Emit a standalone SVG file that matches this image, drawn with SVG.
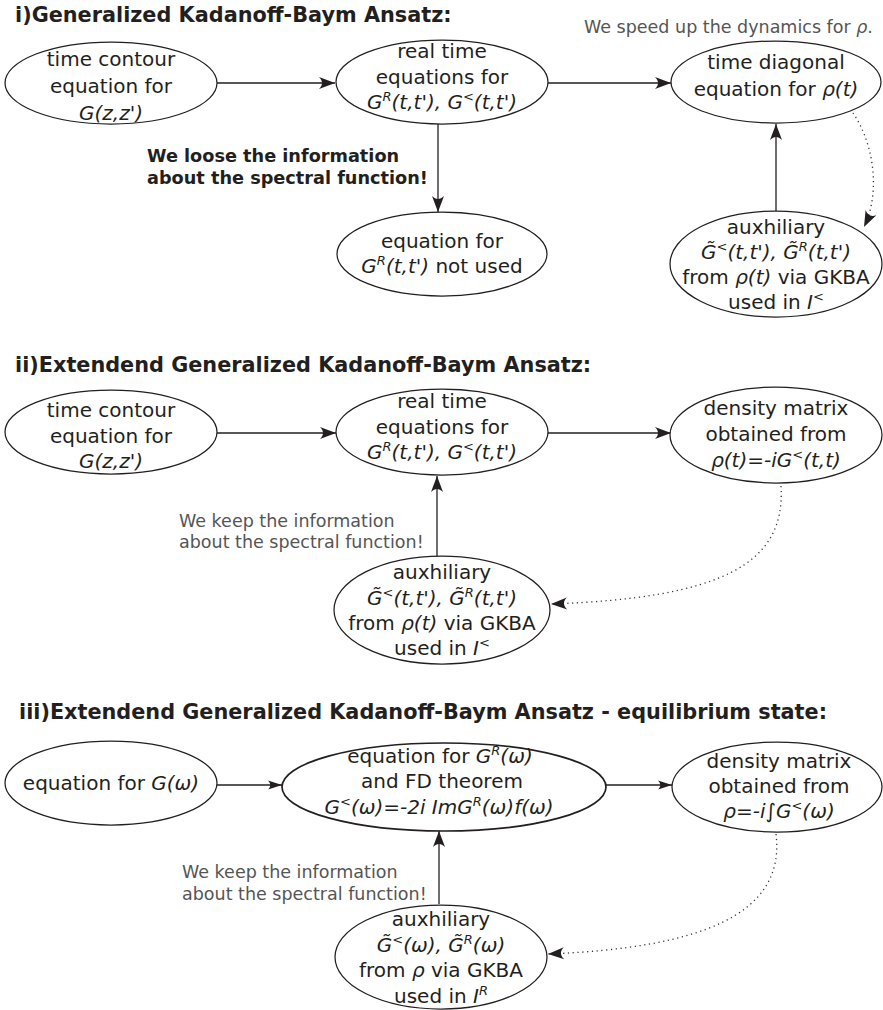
<svg xmlns="http://www.w3.org/2000/svg" width="883" height="1010" viewBox="0 0 883 1010">
<style>
.n ellipse{fill:#fff;stroke:#231f20;stroke-width:1.25}
text{font-family:"DejaVu Sans","Bitstream Vera Sans",sans-serif;fill:#231f20}
.t{font-size:20px;text-anchor:middle}
.it{font-style:italic}
.s{font-size:13px}
.title{font-size:20.8px;font-weight:bold}
.note{font-size:17.5px;fill:#555}
.bnote{font-size:17.7px;font-weight:bold}
.c path{stroke:#231f20;stroke-width:1.3;fill:none}
.c .dot{stroke:#333;stroke-dasharray:1.2 3.6}
</style>
<defs>
<marker id="a" markerUnits="userSpaceOnUse" markerWidth="20" markerHeight="16" viewBox="-17 -8 18 16" refX="0" refY="0" orient="auto" overflow="visible">
<path d="M0,0 L-16,-6 C-12,-2 -12,2 -16,6 Z" fill="#231f20"/>
</marker>
<marker id="as" markerUnits="userSpaceOnUse" markerWidth="20" markerHeight="16" viewBox="-17 -8 18 16" refX="0" refY="0" orient="auto" overflow="visible">
<path d="M0,0 L-14,-4.5 C-11,-1.5 -11,1.5 -14,4.5 Z" fill="#231f20"/>
</marker>
</defs>

<text class="title" x="15" y="22">i)Generalized Kadanoff-Baym Ansatz:</text>
<text class="title" x="15" y="372">ii)Extendend Generalized Kadanoff-Baym Ansatz:</text>
<text class="title" x="19" y="719">iii)Extendend Generalized Kadanoff-Baym Ansatz - equilibrium state:</text>

<text class="note" x="584" y="33">We speed up the dynamics for <tspan class="it">ρ</tspan>.</text>
<text class="bnote" x="147" y="162">We loose the information</text>
<text class="bnote" x="147" y="184">about the spectral function!</text>
<text class="note" x="179" y="527">We keep the information</text>
<text class="note" x="179" y="548">about the spectral function!</text>
<text class="note" x="182" y="878">We keep the information</text>
<text class="note" x="182" y="900">about the spectral function!</text>

<g class="c" id="connectors">
<path d="M217,83 L335,83" marker-end="url(#a)"/>
<path d="M548,83 L671,83" marker-end="url(#a)"/>
<path d="M438,124 L438,212" marker-end="url(#a)"/>
<path d="M776,211 L776,124" marker-end="url(#a)"/>
<path class="dot" d="M853,113 C872,140 882,190 864,227" marker-end="url(#a)"/>

<path d="M217,433 L336,433" marker-end="url(#a)"/>
<path d="M548,433 L671,433" marker-end="url(#a)"/>
<path d="M437,556 L437,476" marker-end="url(#a)"/>
<path class="dot" d="M781,486 C786,565 720,598 551,604" marker-end="url(#a)"/>

<path d="M217,785 L282,785" marker-end="url(#as)"/>
<path d="M606,785 L672,785" marker-end="url(#as)"/>
<path d="M439,904 L439,831" marker-end="url(#a)"/>
<path class="dot" d="M776,834 C786,915 700,948 548,954" marker-end="url(#a)"/>
</g>

<g class="n" id="n1a">
<ellipse cx="111" cy="83" rx="106" ry="41"/>
<text class="t" x="111" y="66">time contour</text>
<text class="t" x="111" y="93">equation for</text>
<text class="t it" x="111" y="120">G(z,z')</text>
</g>
<g class="n" id="n1b">
<ellipse cx="442" cy="82" rx="106" ry="42"/>
<text class="t" x="442" y="58">real time</text>
<text class="t" x="442" y="84">equations for</text>
<text class="t it" x="442" y="109">G<tspan class="s" dy="-8">R</tspan><tspan dy="8">(t,t'), G</tspan><tspan class="s" dy="-8">&lt;</tspan><tspan dy="8">(t,t')</tspan></text>
</g>
<g class="n" id="n1c">
<ellipse cx="776" cy="82" rx="105" ry="41"/>
<text class="t" x="776" y="69">time diagonal</text>
<text class="t" x="776" y="96">equation for <tspan class="it">ρ(t)</tspan></text>
</g>
<g class="n" id="n1d">
<ellipse cx="442" cy="254" rx="105" ry="42"/>
<text class="t" x="442" y="248">equation for</text>
<text class="t" x="442" y="273"><tspan class="it">G<tspan class="s" dy="-8">R</tspan><tspan dy="8">(t,t')</tspan></tspan> not used</text>
</g>
<g class="n" id="n1e">
<ellipse cx="776" cy="264" rx="106" ry="53"/>
<text class="t" x="776" y="234">auxhiliary</text>
<text class="t it" x="776" y="259">G&#771;<tspan class="s" dy="-8">&lt;</tspan><tspan dy="8">(t,t'), G&#771;</tspan><tspan class="s" dy="-8">R</tspan><tspan dy="8">(t,t')</tspan></text>
<text class="t" x="776" y="284">from <tspan class="it">ρ(t)</tspan> via GKBA</text>
<text class="t" x="776" y="309">used in <tspan class="it">I</tspan><tspan class="s" dy="-8">&lt;</tspan></text>
</g>

<g class="n" id="n2a">
<ellipse cx="111" cy="432" rx="106" ry="42"/>
<text class="t" x="111" y="417">time contour</text>
<text class="t" x="111" y="443">equation for</text>
<text class="t it" x="111" y="468">G(z,z')</text>
</g>
<g class="n" id="n2b">
<ellipse cx="442" cy="432" rx="106" ry="43"/>
<text class="t" x="442" y="408">real time</text>
<text class="t" x="442" y="434">equations for</text>
<text class="t it" x="442" y="459">G<tspan class="s" dy="-8">R</tspan><tspan dy="8">(t,t'), G</tspan><tspan class="s" dy="-8">&lt;</tspan><tspan dy="8">(t,t')</tspan></text>
</g>
<g class="n" id="n2c">
<ellipse cx="776" cy="435" rx="106" ry="48"/>
<text class="t" x="776" y="415">density matrix</text>
<text class="t" x="776" y="441">obtained from</text>
<text class="t it" x="776" y="467">ρ(t)=-iG<tspan class="s" dy="-8">&lt;</tspan><tspan dy="8">(t,t)</tspan></text>
</g>
<g class="n" id="n2d">
<ellipse cx="442" cy="610" rx="108" ry="54"/>
<text class="t" x="442" y="579">auxhiliary</text>
<text class="t it" x="442" y="605">G&#771;<tspan class="s" dy="-8">&lt;</tspan><tspan dy="8">(t,t'), G&#771;</tspan><tspan class="s" dy="-8">R</tspan><tspan dy="8">(t,t')</tspan></text>
<text class="t" x="442" y="630">from <tspan class="it">ρ(t)</tspan> via GKBA</text>
<text class="t" x="442" y="655">used in <tspan class="it">I</tspan><tspan class="s" dy="-8">&lt;</tspan></text>
</g>

<g class="n" id="n3a">
<ellipse cx="111" cy="783" rx="106" ry="42"/>
<text class="t" x="111" y="790">equation for <tspan class="it">G(ω)</tspan></text>
</g>
<g class="n" id="n3b">
<ellipse cx="444" cy="787" rx="162" ry="44" style="stroke-width:1.7"/>
<text class="t" x="440" y="763">equation for <tspan class="it">G<tspan class="s" dy="-8">R</tspan><tspan dy="8">(ω)</tspan></tspan></text>
<text class="t" x="442" y="788">and FD theorem</text>
<text class="t it" x="439" y="814">G<tspan class="s" dy="-8">&lt;</tspan><tspan dy="8">(ω)=-2i ImG</tspan><tspan class="s" dy="-8">R</tspan><tspan dy="8">(ω)f(ω)</tspan></text>
</g>
<g class="n" id="n3c">
<ellipse cx="777" cy="787" rx="105" ry="45"/>
<text class="t" x="779" y="768">density matrix</text>
<text class="t" x="779" y="793">obtained from</text>
<text class="t it" x="779" y="818">ρ=-i∫G<tspan class="s" dy="-8">&lt;</tspan><tspan dy="8">(ω)</tspan></text>
</g>
<g class="n" id="n3d">
<ellipse cx="441" cy="957" rx="106" ry="52"/>
<text class="t" x="441" y="926">auxhiliary</text>
<text class="t it" x="441" y="952">G&#771;<tspan class="s" dy="-8">&lt;</tspan><tspan dy="8">(ω), G&#771;</tspan><tspan class="s" dy="-8">R</tspan><tspan dy="8">(ω)</tspan></text>
<text class="t" x="441" y="977">from <tspan class="it">ρ</tspan> via GKBA</text>
<text class="t" x="441" y="1003">used in <tspan class="it">I<tspan class="s" dy="-8">R</tspan></tspan></text>
</g>
</svg>
